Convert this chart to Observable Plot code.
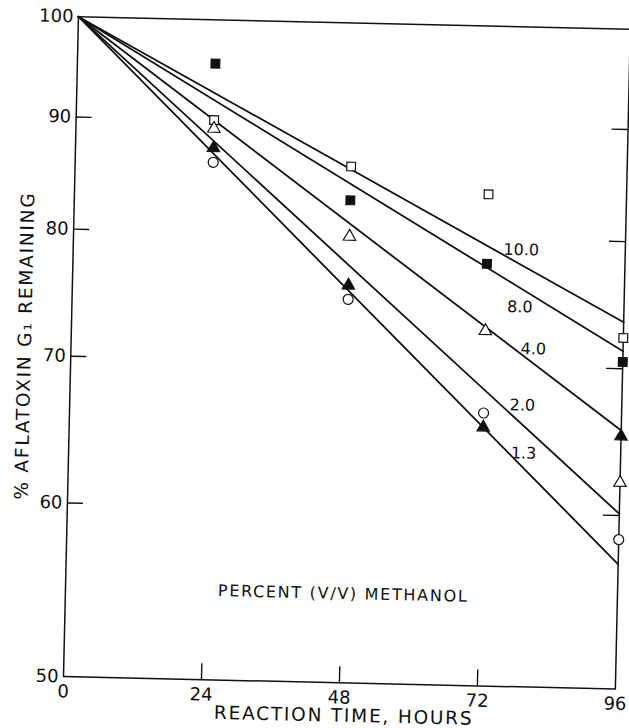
<!DOCTYPE html>
<html><head><meta charset="utf-8">
<script src="https://cdn.jsdelivr.net/npm/d3@7"></script>
<script src="https://cdn.jsdelivr.net/npm/@observablehq/plot@0.6"></script>
<style>
html,body{margin:0;padding:0;background:#fff;overflow:hidden;}
#chart svg{display:block;transform:rotate(1.3deg);transform-origin:63px 676px;}
</style></head><body><div id="chart"></div>
<script>
// Reaction time (hours) at which samples were taken
const hours = [24, 48, 72, 96];
// % aflatoxin G1 remaining, per marker symbol
const openSquare     = [90.0, 86.0, 83.8, 72.3];
const filledSquare   = [95.5, 83.0, 77.9, 70.5];
const openTriangle   = [89.2, 79.9, 72.6, 62.1];
const filledTriangle = [87.4, 75.9, 65.6, 65.2];
const openCircle     = [86.1, 74.8, 66.6, 58.5];

// Fitted lines: start at (0 h, 100 %) and end at 96 h
const lineLabels = ["10.0", "8.0", "4.0", "2.0", "1.3"];
const lineStart = 100;
const lineEnd96 = [73.5, 71.3, 65.6, 60.1, 57.0];
// Positions of the line labels (hours, %)
const labelHours = [77.9, 77.9, 80.4, 78.7, 79.1];
const labelValue = [79.1, 74.5, 71.3, 67.2, 63.9];

const xTicks = [0, 24, 48, 72, 96];
const yTicks = [50, 60, 70, 80, 90, 100];
const rightTicks = [60, 70, 80, 90];
const innerXTicks = [24, 48, 72];
const innerYTicks = [60, 70, 80, 90];

const annotation = "PERCENT (V/V) METHANOL";
const annotationAt = {t: 48.3, v: 54.9};
const xLabel = "REACTION TIME, HOURS";
const yLabel = "% AFLATOXIN G\u2081 REMAINING";

const W = 629, H = 728, mL = 63, mR = 14, mT = 16, mB = 52;
const plotW = W - mL - mR, plotH = H - mT - mB;
const tickLen = 16;

const lineRows = lineLabels.flatMap((s, i) => [
  {series: s, t: 0, v: lineStart},
  {series: s, t: 96, v: lineEnd96[i]}
]);
const labelRows = lineLabels.map((s, i) => ({s, t: labelHours[i], v: labelValue[i]}));

const markerSets = [
  {vals: openSquare, symbol: "square", fill: "white", r: 4.9},
  {vals: filledSquare, symbol: "square", fill: "#111", r: 4.9},
  {vals: openTriangle, symbol: "triangle", fill: "white", r: 4.6},
  {vals: filledTriangle, symbol: "triangle", fill: "#111", r: 4.6},
  {vals: openCircle, symbol: "circle", fill: "white", r: 5}
];
const dotMarks = markerSets.map(m => Plot.dot(hours.map((t, i) => ({t, v: m.vals[i]})), {
  x: "t", y: "v", symbol: m.symbol, fill: m.fill, stroke: "#111", strokeWidth: 1.2, r: m.r
}));

const chart = Plot.plot({
  width: W, height: H,
  marginLeft: mL, marginRight: mR, marginTop: mT, marginBottom: mB,
  style: {fontFamily: "DejaVu Sans", fontSize: "18px", color: "#111", background: "white"},
  x: {domain: [0, 96], ticks: xTicks, tickFormat: d => String(d), tickSize: 0, tickPadding: 8, label: null},
  y: {type: "log", domain: [50, 100], ticks: yTicks, tickFormat: d => String(d), tickSize: 0, tickPadding: 5, label: null},
  marks: [
    Plot.frame({stroke: "#111", strokeWidth: 1.5}),
    Plot.tickX(innerXTicks, {x: d => d, insetTop: plotH - tickLen, stroke: "#111", strokeWidth: 1.4}),
    Plot.tickY(innerYTicks, {y: d => d, insetRight: plotW - tickLen, stroke: "#111", strokeWidth: 1.4}),
    Plot.tickY(rightTicks, {y: d => d, insetLeft: plotW - tickLen, stroke: "#111", strokeWidth: 1.4}),
    Plot.line(lineRows, {x: "t", y: "v", z: "series", stroke: "#111", strokeWidth: 1.8}),
    ...dotMarks,
    Plot.text(labelRows, {x: "t", y: "v", text: "s", fontSize: 16, fill: "#111"}),
    Plot.text([annotation], {x: () => annotationAt.t, y: () => annotationAt.v, text: d => d, fontSize: 16, fill: "#111"}),
    Plot.text([xLabel], {frameAnchor: "bottom", textAnchor: "middle", dx: 5, dy: 33, lineAnchor: "middle", text: d => d, fontSize: 18.5, fill: "#111"}),
    Plot.text([yLabel], {frameAnchor: "left", textAnchor: "middle", rotate: -90, dx: -46, lineAnchor: "middle", text: d => d, fontSize: 18.5, fill: "#111"})
  ]
});
chart.querySelectorAll("text").forEach(t => {
  const s = t.textContent;
  if (s === xLabel || s === yLabel) t.setAttribute("letter-spacing", "1.8");
  else if (s === annotation) t.setAttribute("letter-spacing", "1.7");
});
document.getElementById("chart").append(chart);
</script></body></html>
